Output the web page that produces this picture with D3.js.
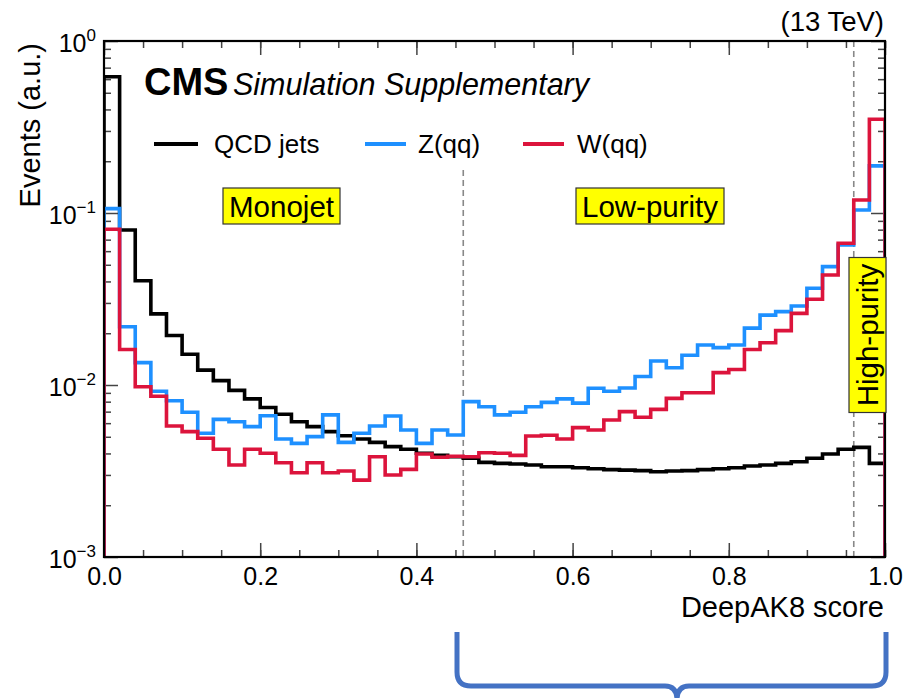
<!DOCTYPE html>
<html>
<head>
<meta charset="utf-8">
<script src="https://cdn.jsdelivr.net/npm/d3@7"></script>
<style>
  html, body { margin: 0; padding: 0; background: #fff; }
  svg { display: block; font-family: "Liberation Sans", Arial, Helvetica, sans-serif; }
</style>
</head>
<body>
<svg id="chart" width="910" height="698"></svg>
<script>
// DeepAK8 score distributions, 50 bins of width 0.02 on [0, 1], unit-normalised
const binEdges = d3.range(0, 50).map(i => i * 0.02);

const qcdJets = [0.62, 0.0796, 0.0404, 0.0259, 0.0194, 0.0151, 0.0122, 0.0106, 0.0093, 0.0083,
  0.0074, 0.00676, 0.00612, 0.00573, 0.00536, 0.00507, 0.00485, 0.00464, 0.00438, 0.00423,
  0.00401, 0.0039, 0.00383, 0.00375, 0.00355, 0.0035, 0.00347, 0.00343, 0.00335, 0.00335,
  0.0033, 0.00326, 0.00322, 0.0032, 0.00318, 0.00313, 0.00316, 0.00318, 0.00322, 0.00326,
  0.0033, 0.00338, 0.00343, 0.0035, 0.00358, 0.00375, 0.00397, 0.00423, 0.00434, 0.0035];

const zqq = [0.106, 0.0218, 0.0135, 0.0092, 0.0081, 0.00694, 0.00524, 0.00631, 0.00612, 0.00573,
  0.00663, 0.00485, 0.00458, 0.00501, 0.0067, 0.00464, 0.00524, 0.00578, 0.0066, 0.00547,
  0.00458, 0.00547, 0.00512, 0.008, 0.00748, 0.0067, 0.00694, 0.00748, 0.00793, 0.0083,
  0.00785, 0.00957, 0.0092, 0.0096, 0.0112, 0.0138, 0.0126, 0.0149, 0.0171, 0.0165,
  0.0171, 0.0214, 0.0255, 0.0267, 0.0288, 0.0365, 0.0488, 0.0652, 0.104, 0.188];

const wqq = [0.0804, 0.0161, 0.00977, 0.0086, 0.00578, 0.00536, 0.0049, 0.00423, 0.00343, 0.00423,
  0.00401, 0.00353, 0.00309, 0.00353, 0.00309, 0.00316, 0.0028, 0.00383, 0.003, 0.00323,
  0.00397, 0.0038, 0.00385, 0.00383, 0.00404, 0.00401, 0.0039, 0.00505, 0.0051, 0.00485,
  0.00565, 0.00547, 0.00626, 0.007, 0.00649, 0.00722, 0.00836, 0.00902, 0.00902, 0.0118,
  0.0123, 0.0161, 0.0176, 0.0207, 0.0261, 0.0315, 0.0436, 0.0667, 0.119, 0.351];

const seriesNames = ["QCD jets", "Z(qq)", "W(qq)"];
const seriesColors = ["#000000", "#1e90ff", "#dc143c"];

const xMajorTicks = [0, 0.2, 0.4, 0.6, 0.8, 1.0];
const xMinorTicks = d3.range(0, 21).map(i => i * 0.05);
const yDecades = [1, 0.1, 0.01, 0.001];
const yDecadeExponents = ["0", "−1", "−2", "−3"];
const categoryCuts = [0.46, 0.96];
const categoryLabels = ["Monojet", "Low-purity", "High-purity"];

const svg = d3.select("#chart");
const plot = { left: 104, right: 885, top: 41, bottom: 557 };

const x = d3.scaleLinear().domain([0, 1]).range([plot.left, plot.right]);
const y = d3.scaleLog().domain([1e-3, 1]).range([plot.bottom, plot.top]);

svg.append("defs").append("clipPath").attr("id", "plotClip")
  .append("rect")
  .attr("x", plot.left).attr("y", plot.top)
  .attr("width", plot.right - plot.left).attr("height", plot.bottom - plot.top);

// Minor log ticks 2..9 in each decade
const yMinorTicks = [];
[0.001, 0.01, 0.1].forEach(d => { for (let k = 2; k <= 9; k++) yMinorTicks.push(d * k); });

const tickColor = "#444";
function styleAxis(g) {
  g.select(".domain").remove();
  g.selectAll(".tick line").attr("stroke", tickColor).attr("stroke-width", 1.5);
}

// bottom axis
svg.append("g").attr("transform", `translate(0,${plot.bottom})`)
  .call(d3.axisBottom(x).tickValues(xMinorTicks).tickSize(-7).tickFormat(""))
  .call(styleAxis);
const xAxisG = svg.append("g").attr("transform", `translate(0,${plot.bottom})`)
  .call(d3.axisBottom(x).tickValues(xMajorTicks).tickSize(-14).tickPadding(10).tickFormat(d3.format(".1f")))
  .call(styleAxis);
xAxisG.selectAll("text")
  .attr("font-size", 25).attr("fill", "#000")
  .attr("font-family", "'Liberation Sans', Arial, sans-serif");

// top axis (mirrored ticks)
svg.append("g").attr("transform", `translate(0,${plot.top})`)
  .call(d3.axisTop(x).tickValues(xMinorTicks).tickSize(-7).tickFormat(""))
  .call(styleAxis);
svg.append("g").attr("transform", `translate(0,${plot.top})`)
  .call(d3.axisTop(x).tickValues(xMajorTicks).tickSize(-14).tickFormat(""))
  .call(styleAxis);

// left axis
svg.append("g").attr("transform", `translate(${plot.left},0)`)
  .call(d3.axisLeft(y).tickValues(yMinorTicks).tickSize(-7).tickFormat(""))
  .call(styleAxis);
const yAxisG = svg.append("g").attr("transform", `translate(${plot.left},0)`)
  .call(d3.axisLeft(y).tickValues(yDecades).tickSize(-14).tickFormat(""))
  .call(styleAxis);
yAxisG.selectAll(".tick").each(function(d) {
  const t = d3.select(this).append("text")
    .attr("x", -8).attr("y", 10)
    .attr("text-anchor", "end")
    .attr("fill", "#000")
    .attr("font-size", 25);
  t.append("tspan").text("10");
  t.append("tspan").attr("dy", -11).attr("font-size", 17).text(yDecadeExponents[yDecades.indexOf(d)]);
});

// right axis (mirrored ticks)
svg.append("g").attr("transform", `translate(${plot.right},0)`)
  .call(d3.axisRight(y).tickValues(yMinorTicks).tickSize(-7).tickFormat(""))
  .call(styleAxis);
svg.append("g").attr("transform", `translate(${plot.right},0)`)
  .call(d3.axisRight(y).tickValues(yDecades).tickSize(-14).tickFormat(""))
  .call(styleAxis);

// category boundaries
svg.append("line")
  .attr("x1", x(categoryCuts[0])).attr("x2", x(categoryCuts[0]))
  .attr("y1", 170).attr("y2", plot.bottom)
  .attr("stroke", "#888").attr("stroke-width", 1.6).attr("stroke-dasharray", "6,4");
svg.append("line")
  .attr("x1", x(categoryCuts[1])).attr("x2", x(categoryCuts[1]))
  .attr("y1", plot.top).attr("y2", plot.bottom)
  .attr("stroke", "#888").attr("stroke-width", 1.6).attr("stroke-dasharray", "6,4");

// step histograms
const stepLine = d3.line()
  .x(d => x(d[0]))
  .y(d => y(Math.max(d[1], 1e-3)))
  .curve(d3.curveStepAfter);

function histPoints(values) {
  const pts = [[0, 1e-3]];
  values.forEach((v, i) => pts.push([binEdges[i], v]));
  pts.push([1, 1e-3]);
  return pts;
}

const histG = svg.append("g").attr("clip-path", "url(#plotClip)");
[qcdJets, zqq, wqq].forEach((vals, i) => {
  histG.append("path")
    .attr("d", stepLine(histPoints(vals)))
    .attr("fill", "none")
    .attr("stroke", seriesColors[i])
    .attr("stroke-width", 3.6)
    .attr("stroke-linejoin", "miter");
});

// frame
svg.append("rect")
  .attr("x", plot.left).attr("y", plot.top)
  .attr("width", plot.right - plot.left).attr("height", plot.bottom - plot.top)
  .attr("fill", "none").attr("stroke", "#000").attr("stroke-width", 2.2);

// legend
const legendItems = [
  { line: [154, 198], text: 214 },
  { line: [365, 406], text: 418 },
  { line: [523, 564], text: 577 }
];
legendItems.forEach((it, i) => {
  svg.append("line")
    .attr("x1", it.line[0]).attr("x2", it.line[1])
    .attr("y1", 144).attr("y2", 144)
    .attr("stroke", seriesColors[i]).attr("stroke-width", 4);
  svg.append("text")
    .attr("x", it.text).attr("y", 153)
    .attr("font-size", 26).attr("fill", "#000")
    .text(seriesNames[i]);
});

// category labels in yellow boxes
function labelBox(cx, cy, w, h, text, rotate, size) {
  const g = svg.append("g").attr("transform", `translate(${cx},${cy})${rotate ? " rotate(-90)" : ""}`);
  g.append("rect")
    .attr("x", -w / 2).attr("y", -h / 2).attr("width", w).attr("height", h)
    .attr("fill", "#ffff00").attr("stroke", "#333").attr("stroke-width", 1.2);
  g.append("text")
    .attr("x", 0).attr("y", size * 0.36)
    .attr("text-anchor", "middle")
    .attr("font-size", size).attr("fill", "#000")
    .text(text);
}
labelBox(281.5, 206, 117, 36, categoryLabels[0], false, 29.5);
labelBox(650, 206, 148, 36, categoryLabels[1], false, 29.5);
labelBox(867.5, 335, 155, 37, categoryLabels[2], true, 29.5);

// CMS label
svg.append("text")
  .attr("x", 144).attr("y", 95)
  .attr("font-size", 38).attr("font-weight", "bold").attr("fill", "#000")
  .text("CMS");
svg.append("text")
  .attr("x", 233).attr("y", 95)
  .attr("font-size", 30.5).attr("font-style", "italic").attr("fill", "#000")
  .text("Simulation Supplementary");

// energy label
svg.append("text")
  .attr("x", 884).attr("y", 31)
  .attr("text-anchor", "end")
  .attr("font-size", 27.5).attr("fill", "#000")
  .text("(13 TeV)");

// axis titles
svg.append("text")
  .attr("transform", "translate(40,43) rotate(-90)")
  .attr("text-anchor", "end")
  .attr("font-size", 29).attr("fill", "#000")
  .text("Events (a.u.)");
svg.append("text")
  .attr("x", 884).attr("y", 617)
  .attr("text-anchor", "end")
  .attr("font-size", 29).attr("fill", "#000")
  .text("DeepAK8 score");

// brace spanning the tagged region
const braceL = 457, braceR = 886, braceMid = 677, braceTop = 632, braceY = 686;
svg.append("path")
  .attr("d", `M${braceL},${braceTop} L${braceL},${braceY - 14} Q${braceL},${braceY} ${braceL + 14},${braceY}
              L${braceMid - 12},${braceY} Q${braceMid},${braceY} ${braceMid},${braceY + 14}
              Q${braceMid},${braceY} ${braceMid + 12},${braceY}
              L${braceR - 14},${braceY} Q${braceR},${braceY} ${braceR},${braceY - 14} L${braceR},${braceTop}`)
  .attr("fill", "none").attr("stroke", "#4472c4").attr("stroke-width", 5).attr("stroke-linejoin", "round");
</script>
</body>
</html>
